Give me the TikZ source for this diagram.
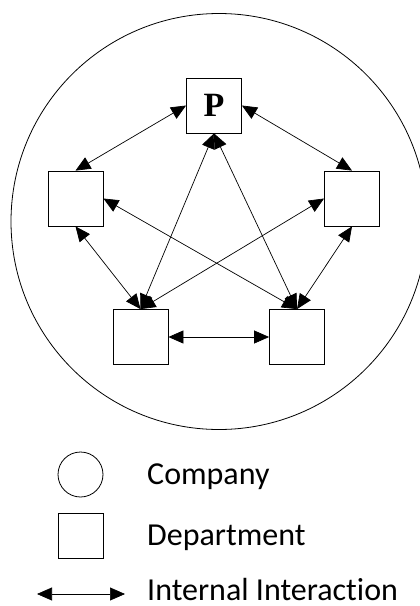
\documentclass[tikz,border=0pt]{standalone}
\usepackage{fontspec}
\setmainfont[Ligatures={NoCommon}]{Carlito}
\newfontfamily\pfont{Liberation Serif}
\usetikzlibrary{arrows.meta}
\begin{document}
\begin{tikzpicture}[
			x=1pt, y=-1pt,
			dept/.style={draw, line width=0.8pt, minimum size=55pt, inner sep=0pt},
			link/.style={line width=0.7pt, {Triangle[length=15pt,width=13pt]}-{Triangle[length=15pt,width=13pt]}},
			legend/.style={anchor=base west, inner sep=0pt, font=\fontsize{32}{36}\selectfont}
		]
		\useasboundingbox (0,0) rectangle (420,606);
		% company
		\begin{scope}
			\clip (0,0) rectangle (420,606);
			\draw[line width=0.8pt] (219,221.5) circle (208);
		\end{scope}
		% departments
		\node[dept, font=\pfont\bfseries\fontsize{34}{38}\selectfont] (p) at (214,105.5) {P};
		\node[dept] (l) at (75.5,198.5) {};
		\node[dept] (r) at (352,198.5) {};
		\node[dept] (bl) at (140.5,337) {};
		\node[dept] (br) at (297,337) {};
		% interactions
		\draw[link] (p.west) -- (l.north);
		\draw[link] (p.east) -- (r.north);
		\draw[link] (p.south) -- (bl.north);
		\draw[link] (p.south) -- (br.north);
		\draw[link] (l.east) -- (br.north);
		\draw[link] (r.west) -- (bl.north);
		\draw[link] (l.south) -- (bl.north);
		\draw[link] (r.south) -- (br.north);
		\draw[link] (bl.east) -- (br.west);
		% legend
		\node[draw, line width=0.8pt, circle, minimum size=45pt, inner sep=0pt] (lc) at (80.5,474.5) {};
		\node[dept, minimum size=45pt] (ld) at (80.5,535.5) {};
		\coordinate (la) at (37,594);
		\coordinate (lb) at (125,594);
		\draw[link] (la) -- (lb);
		\node[legend] (tc) at (147,484) {Company};
		\node[legend] (td) at (147,545) {Department};
		\node[legend] (ti) at (147,600) {Internal Interaction};
\end{tikzpicture}
\end{document}
